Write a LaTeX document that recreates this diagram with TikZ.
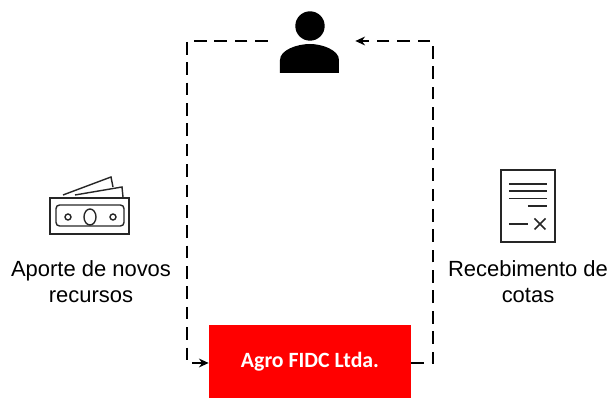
\documentclass[tikz,border=0pt]{standalone}
\usepackage{fontspec}
\setmainfont{Liberation Sans}
\newfontfamily\boxfont{Carlito}
\usetikzlibrary{arrows.meta}
\definecolor{fidcred}{RGB}{255,0,0}
\tikzset{
    flow/.style={line width=1.1pt, dash pattern=on 7.2pt off 4.4pt, -{Stealth[length=5.5pt,width=5pt]}},
    icon/.style={line width=0.8pt, black!85},
    caption/.style={align=center, font=\fontsize{12.5}{14.8}\selectfont, inner sep=0pt},
}
\begin{document}
\begin{tikzpicture}[x=0.02cm, y=-0.02cm]
    \useasboundingbox (0,0) rectangle (610,398);
    \node[fill=fidcred, text=white, minimum width=202*0.02cm, minimum height=73*0.02cm, inner sep=0pt, font=\boxfont\bfseries\fontsize{12.4}{14}\selectfont] (fidc) at (310,362) {Agro FIDC Ltda.};
    \node[minimum width=87*0.02cm, minimum height=62*0.02cm, inner sep=0pt] (user) at (311.5,41) {};
    \node[caption] (aporte) at (91,282) {Aporte de novos\\recursos};
    \node[caption] (cotas) at (528,282) {Recebimento de\\cotas};
    % person
    \fill (310,26) circle (14.7);
    \fill (280,73) -- (280,60) .. controls (280,50) and (297,44) .. (310,44) .. controls (322,44) and (339,50) .. (339,60) -- (339,73) -- cycle;
    % banknotes
    \draw[icon] (50,198) rectangle (129,234);
    \draw[icon, rounded corners=2pt] (56,205) rectangle (124,226);
    \draw[icon] (90,217) ellipse (6 and 8);
    \draw[icon] (68,217) circle (3);
    \draw[icon] (113,217) circle (3);
    \draw[icon] (63,195) -- (111,177) -- (113,187);
    \draw[icon] (75,195) -- (122,187) -- (123,197);
    % document
    \draw[icon, line width=1pt] (501,170) rectangle (555,242);
    \draw[icon] (509,184) -- (547,184);
    \draw[icon] (509,191) -- (547,191);
    \draw[icon] (509,198.5) -- (547,198.5);
    \draw[icon] (528,206) -- (547,206);
    \draw[icon] (509,224) -- (528,224);
    \draw[icon, line width=1pt] (534.5,218.5) -- (545.5,229.5);
    \draw[icon, line width=1pt] (534.5,229.5) -- (545.5,218.5);
    % flows
    \draw[flow] (user.west) -| (187,363) -- (fidc.west |- 0,363);
    \draw[flow] (fidc.east |- 0,363) -| (433,41) -- (user.east);
\end{tikzpicture}
\end{document}
